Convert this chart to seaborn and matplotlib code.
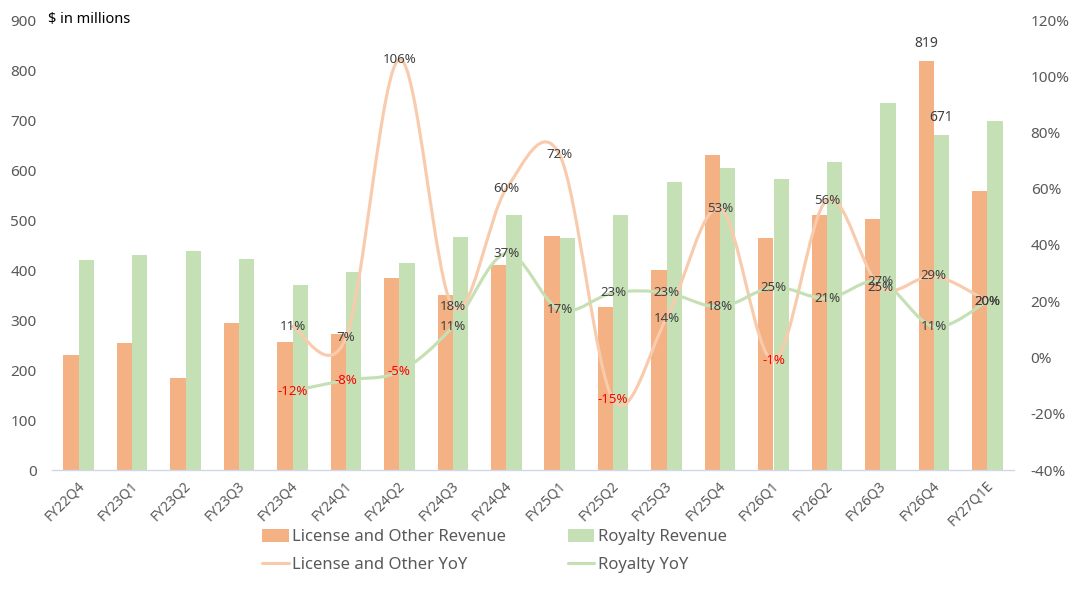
import matplotlib
matplotlib.use("Agg")
import matplotlib.pyplot as plt
import matplotlib.transforms as mtransforms
from matplotlib.path import Path
from matplotlib.patches import PathPatch, Patch
from matplotlib.lines import Line2D
import pandas as pd
import seaborn as sns

quarters = ["FY22Q4", "FY23Q1", "FY23Q2", "FY23Q3", "FY23Q4", "FY24Q1", "FY24Q2",
            "FY24Q3", "FY24Q4", "FY25Q1", "FY25Q2", "FY25Q3", "FY25Q4", "FY26Q1",
            "FY26Q2", "FY26Q3", "FY26Q4", "FY27Q1E"]
license_rev = [230, 255, 185, 295, 257, 272, 385, 351, 411, 469, 327, 400, 631, 465, 511, 502, 819, 559]
royalty_rev = [421, 431, 439, 422, 371, 397, 415, 467, 510, 465, 510, 577, 604, 582, 617, 734, 671, 699]

# YoY series start at FY23Q4
yoy_start = 4
license_yoy = [11, 7, 106, 18, 60, 72, -15, 14, 53, -1, 56, 25, 29, 20]
royalty_yoy = [-12, -8, -5, 11, 37, 17, 23, 23, 18, 25, 21, 27, 11, 20]

# only the latest actual quarter gets a value label
bar_label_idx = 16

C_LIC = "#F4B183"
C_ROY = "#C5E0B4"
C_LIC_LINE = "#F8CBAD"
C_ROY_LINE = "#C5E0B4"
C_TXT = "#595959"
C_LBL = "#404040"


def smooth_path(xs, ys):
    """Excel-style smoothed line as cubic bezier segments."""
    verts = [(xs[0], ys[0])]
    codes = [Path.MOVETO]
    n = len(xs)
    for i in range(n - 1):
        x0, y0 = (xs[i - 1], ys[i - 1]) if i > 0 else (xs[i], ys[i])
        x3, y3 = (xs[i + 2], ys[i + 2]) if i + 2 < n else (xs[i + 1], ys[i + 1])
        c1 = (xs[i] + (xs[i + 1] - x0) / 6, ys[i] + (ys[i + 1] - y0) / 6)
        c2 = (xs[i + 1] - (x3 - xs[i]) / 6, ys[i + 1] - (y3 - ys[i]) / 6)
        verts += [c1, c2, (xs[i + 1], ys[i + 1])]
        codes += [Path.CURVE4] * 3
    return Path(verts, codes)


sns.set_theme(style="white")
plt.rcParams["font.family"] = ["Noto Sans", "DejaVu Sans"]

df = pd.DataFrame({
    "quarter": quarters * 2,
    "series": ["License and Other Revenue"] * len(quarters) + ["Royalty Revenue"] * len(quarters),
    "value": license_rev + royalty_rev,
})

fig = plt.figure(figsize=(10.8, 5.91), dpi=100)
ax = fig.add_axes([52 / 1080, 1 - 470 / 591, 962 / 1080, 450 / 591])

sns.barplot(data=df, x="quarter", y="value", hue="series", order=quarters,
            palette=[C_LIC, C_ROY], width=0.57, saturation=1, legend=False,
            linewidth=0, ax=ax)

ax.set_ylim(0, 900)
ax.set_yticks(range(0, 901, 100))
ax.set_xlim(-0.5, len(quarters) - 0.5)
ax.set_xlabel("")
ax.set_ylabel("")
ax.tick_params(axis="y", colors=C_TXT, labelsize=11, length=0, pad=11)
ax.tick_params(axis="x", colors=C_TXT, labelsize=10, length=0, pad=6)
shift = mtransforms.ScaledTranslation(-2 / 100, 0, fig.dpi_scale_trans)
for lab in ax.get_xticklabels():
    lab.set_rotation(45)
    lab.set_ha("right")
    lab.set_rotation_mode("anchor")
    lab.set_transform(lab.get_transform() + shift)
for s in ["top", "left", "right"]:
    ax.spines[s].set_visible(False)
ax.spines["bottom"].set_color("#D0D7E8")
ax.spines["bottom"].set_linewidth(1)

for cont, vals in zip(ax.containers, [license_rev, royalty_rev]):
    labels = [str(v) if i == bar_label_idx else "" for i, v in enumerate(vals)]
    ax.bar_label(cont, labels=labels, padding=7, fontsize=10, color=C_LBL)

ax2 = ax.twinx()
ax2.set_ylim(-40, 120)
ax2.set_yticks(range(-40, 121, 20))
ax2.set_yticklabels([f"{v}%" for v in range(-40, 121, 20)])
ax2.tick_params(axis="y", colors=C_TXT, labelsize=11, length=0, pad=12)
for s in ax2.spines.values():
    s.set_visible(False)

xs = list(range(yoy_start, len(quarters)))
for vals, col in [(license_yoy, C_LIC_LINE), (royalty_yoy, C_ROY_LINE)]:
    ax2.add_patch(PathPatch(smooth_path(xs, vals), facecolor="none", edgecolor=col,
                            linewidth=2.25, capstyle="round", joinstyle="round", zorder=2))
for vals in [license_yoy, royalty_yoy]:
    for x, v in zip(xs, vals):
        ax2.text(x, v, f"{v}%", ha="center", va="center", fontsize=9.5,
                 color="#FF0000" if v < 0 else C_LBL, zorder=3)

fig.text(48 / 1080, 1 - 19 / 591, "$ in millions", ha="left", va="center",
         fontsize=10.5, color="black")

handles = [
    Patch(facecolor=C_LIC, edgecolor="none"),
    Line2D([], [], color=C_LIC_LINE, linewidth=2.25),
    Patch(facecolor=C_ROY, edgecolor="none"),
    Line2D([], [], color=C_ROY_LINE, linewidth=2.25),
]
names = ["License and Other Revenue", "License and Other YoY",
         "Royalty Revenue", "Royalty YoY"]
fig.legend(handles, names, loc="upper left", bbox_to_anchor=(262 / 1080, 1 - 529 / 591),
           ncol=2, frameon=False, fontsize=12, labelcolor=C_TXT,
           handlelength=1.6, handleheight=0.8, handletextpad=0.2,
           columnspacing=3.7, labelspacing=0.7, borderpad=0, borderaxespad=0)

fig.savefig("out.png", dpi=100)
